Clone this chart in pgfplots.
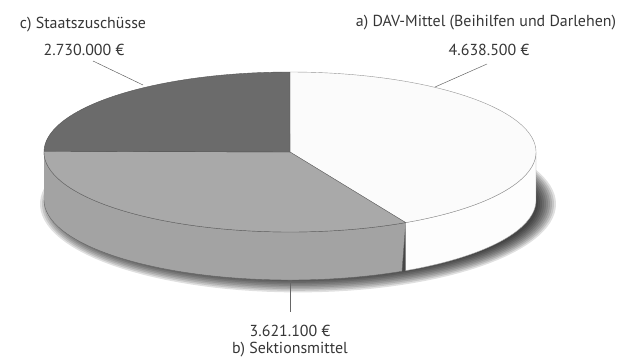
\documentclass[border=0pt]{standalone}
\usepackage{pgfplots}
\pgfplotsset{compat=1.18}
\usepackage{fontspec}
\setmainfont{PT Sans}
\definecolor{cC}{HTML}{6B6B6B}
\definecolor{cB}{HTML}{A9A9A9}
\definecolor{cBs}{HTML}{A3A3A3}
\definecolor{cA}{HTML}{FBFBFB}
\definecolor{cAs}{HTML}{FDFDFD}
\definecolor{edge}{HTML}{666666}
\definecolor{txt}{HTML}{363636}
\tikzset{lbl/.style={font=\fontsize{16}{18}\selectfont, text=txt, inner sep=0pt}}
\begin{document}
\begin{tikzpicture}
\def\cx{290}\def\cy{152}\def\rx{246}\def\ry{80}\def\dep{48}
% values in millions of euro
\def\va{4.6385}\def\vb{3.6211}\def\vc{2.7300}
\pgfmathsetmacro\tot{\va+\vb+\vc}
\pgfmathsetmacro\aA{90}
\pgfmathsetmacro\aB{90-360*(\va/\tot)}
\pgfmathsetmacro\aC{\aB-360*(\vb/\tot)}
\pgfmathsetmacro\aE{\aC-360*(\vc/\tot)}
\begin{axis}[scale only axis, width=620bp, height=359bp,
  xmin=0, xmax=620, ymin=0, ymax=359, y dir=reverse,
  hide axis, clip=false,
  declare function={sang(\t,\a,\b)=(\t<=1)*(\a+(\b-\a)*\t)+(\t>1)*(\b+(\a-\b)*(\t-1));}]
\addplot[draw=none] coordinates {(0,0) (620,359)};
% drop shadow
\pgfplotsinvokeforeach{0,...,9}{
  \addplot[draw=none, fill=black, fill opacity=0.12, domain=0:360, samples=120]
    ({\cx+8+(\rx-6+2*#1)*cos(x)}, {\cy+\dep+4-(\ry-6+1.6*#1)*sin(x)});
}
% sides
\addplot[fill=cBs, draw=edge, line width=0.4pt, domain=0:2, samples=241]
  ({\cx+\rx*cos(sang(x,-180,\aB))}, {\cy-\ry*sin(sang(x,-180,\aB))+\dep*(x>1)});
\addplot[fill=cAs, draw=edge!60, line width=0.4pt, domain=0:2, samples=241]
  ({\cx+\rx*cos(sang(x,\aB,0))}, {\cy-\ry*sin(sang(x,\aB,0))+\dep*(x>1)});
% top faces
\addplot[fill=cA, draw=edge!70, line width=0.4pt, domain=\aB:\aA, samples=120]
  ({\cx+\rx*cos(x)}, {\cy-\ry*sin(x)}) -- (axis cs:\cx,\cy) -- cycle;
\addplot[fill=cB, draw=edge, line width=0.4pt, domain=\aC:\aB, samples=120]
  ({\cx+\rx*cos(x)}, {\cy-\ry*sin(x)}) -- (axis cs:\cx,\cy) -- cycle;
\addplot[fill=cC, draw=cC!80!black, line width=0.4pt, domain=\aE:\aC, samples=120]
  ({\cx+\rx*cos(x)}, {\cy-\ry*sin(x)}) -- (axis cs:\cx,\cy) -- cycle;
% leader lines
\addplot[edge, line width=0.5pt] coordinates {(93,61) (143,85)};
\addplot[edge, line width=0.5pt] coordinates {(487,64) (435,87)};
\addplot[edge, line width=0.5pt] coordinates {(290,283) (290,312)};
% labels
\node[lbl] at (axis cs:83,25) {c) Staatszuschüsse};
\node[lbl] at (axis cs:84,50) {2.730.000 €};
\node[lbl] at (axis cs:486,23) {a) DAV-Mittel (Beihilfen und Darlehen)};
\node[lbl] at (axis cs:489,50) {4.638.500 €};
\node[lbl] at (axis cs:290,331) {3.621.100 €};
\node[lbl] at (axis cs:290,350) {b) Sektionsmittel};
\end{axis}
\end{tikzpicture}
\end{document}
